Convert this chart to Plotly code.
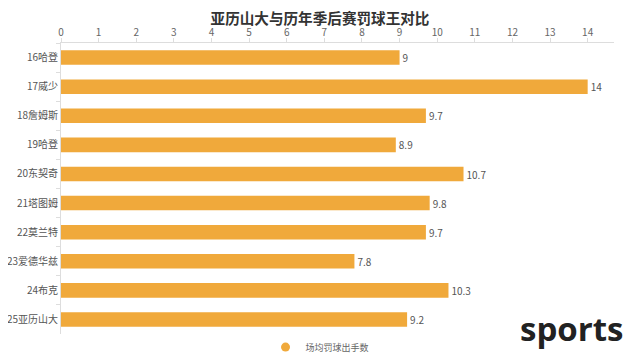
import plotly.graph_objects as go

players = ["16哈登", "17威少", "18詹姆斯", "19哈登", "20东契奇", "21塔图姆", "22莫兰特", "23爱德华兹", "24布克", "25亚历山大"]
fta = [9, 14, 9.7, 8.9, 10.7, 9.8, 9.7, 7.8, 10.3, 9.2]
x_ticks = list(range(0, 15))
series_name = "场均罚球出手数"
title_text = "亚历山大与历年季后赛罚球王对比"

COLOR = "#F0A93B"
FONT = "Noto Sans CJK SC"

fig = go.Figure()
fig.add_trace(go.Bar(
    x=fta, y=players, orientation="h",
    marker=dict(color=COLOR, line=dict(width=0)),
    width=0.5,
    text=[f"{v:g}" for v in fta], textposition="outside",
    textfont=dict(size=11, color="#555", family=FONT),
    cliponaxis=False,
    showlegend=False, name=series_name,
))
fig.add_trace(go.Scatter(
    x=[None], y=[None], mode="markers",
    marker=dict(color=COLOR, size=9, symbol="circle"),
    name=series_name, showlegend=True,
))

fig.update_layout(
    width=632, height=353,
    margin=dict(l=53, r=26, t=35, b=27, autoexpand=False),
    paper_bgcolor="white", plot_bgcolor="white",
    font=dict(family=FONT, color="#666"),
    title=dict(text=f"<b>{title_text}</b>", x=0.4937, xanchor="center", y=0.969, yanchor="middle",
               font=dict(size=14.6, color="#333", family=FONT)),
    bargap=0.5,
    xaxis=dict(side="top", range=[0, 14.7], tickvals=x_ticks, showgrid=False, zeroline=False,
               showline=True, linecolor="#ddd", linewidth=1, automargin=False,
               ticks="outside", ticklen=4, tickcolor="#ddd", ticklabelstandoff=-2,
               tickfont=dict(size=10, color="#666", family=FONT)),
    yaxis=dict(autorange="reversed", showgrid=False, zeroline=False, automargin=False,
               showline=True, linecolor="#ddd", linewidth=1,
               ticks="outside", ticklen=4, tickcolor="#ddd", tickson="boundaries",
               tickfont=dict(size=10, color="#555", family=FONT)),
    legend=dict(orientation="h", xref="container", x=0.4937, xanchor="center", y=-0.045, yanchor="middle",
                font=dict(size=9, color="#666", family=FONT), itemwidth=30),
    annotations=[dict(text="<b>sports</b>", xref="paper", yref="paper", x=1.02, y=0.02,
                      xanchor="right", yanchor="middle", showarrow=False,
                      font=dict(size=33, color="#222", family="Open Sans"))],
)

fig.write_html("out.html")
